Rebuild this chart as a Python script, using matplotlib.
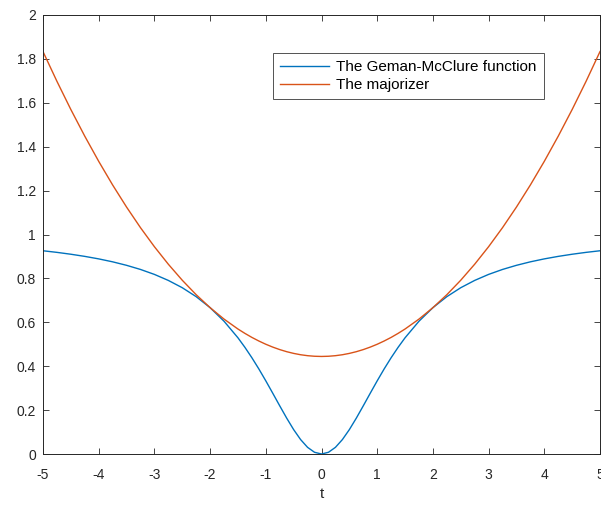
import numpy as np
import matplotlib.pyplot as plt

plt.rcParams['font.family'] = ['Liberation Sans', 'DejaVu Sans']
plt.rcParams['axes.unicode_minus'] = False

# Values (finer steps near the valley)
t = [-5.0, -4.75, -4.5, -4.25, -4.0, -3.75, -3.5, -3.25, -3.0, -2.75, -2.5, -2.25,
     -2.0, -1.75, -1.5, -1.375, -1.25, -1.125, -1.0, -0.875, -0.75, -0.625, -0.5,
     -0.375, -0.25, -0.125, 0.0,
     0.125, 0.25, 0.375, 0.5, 0.625, 0.75, 0.875, 1.0, 1.125, 1.25, 1.375, 1.5,
     1.75, 2.0, 2.25, 2.5, 2.75, 3.0, 3.25, 3.5, 3.75, 4.0, 4.25, 4.5, 4.75, 5.0]

geman = [0.9259, 0.9186, 0.9101, 0.9003, 0.8889, 0.8755, 0.8596, 0.8408, 0.8182, 0.7908,
         0.7576, 0.7168, 0.6667, 0.6049, 0.5294, 0.4859, 0.4386, 0.3876, 0.3333, 0.2768,
         0.2195, 0.1634, 0.1111, 0.0657, 0.0303, 0.0078, 0.0,
         0.0078, 0.0303, 0.0657, 0.1111, 0.1634, 0.2195, 0.2768, 0.3333, 0.3876, 0.4386,
         0.4859, 0.5294, 0.6049, 0.6667, 0.7168, 0.7576, 0.7908, 0.8182, 0.8408, 0.8596,
         0.8755, 0.8889, 0.9003, 0.9101, 0.9186, 0.9259]

major = [1.8333, 1.6979, 1.5694, 1.4479, 1.3333, 1.2257, 1.1250, 1.0312, 0.9444, 0.8646,
         0.7917, 0.7257, 0.6667, 0.6146, 0.5694, 0.5495, 0.5312, 0.5148, 0.5000, 0.4870,
         0.4757, 0.4661, 0.4583, 0.4522, 0.4479, 0.4453, 0.4444,
         0.4453, 0.4479, 0.4522, 0.4583, 0.4661, 0.4757, 0.4870, 0.5000, 0.5148, 0.5312,
         0.5495, 0.5694, 0.6146, 0.6667, 0.7257, 0.7917, 0.8646, 0.9444, 1.0312, 1.1250,
         1.2257, 1.3333, 1.4479, 1.5694, 1.6979, 1.8333]

fig = plt.figure(figsize=(6.01, 5.08), dpi=100)
ax = fig.add_axes([43 / 601, 54 / 508, 557 / 601, 439 / 508])

ax.plot(t, geman, color='#0072BD', linewidth=1.0, label='The Geman-McClure function')
ax.plot(t, major, color='#D95319', linewidth=1.0, label='The majorizer')

ax.set_xlim(-5, 5)
ax.set_ylim(0, 2)
ax.set_xticks(range(-5, 6))
ax.set_yticks(np.arange(0, 2.01, 0.2))
ax.set_yticklabels(['0', '0.2', '0.4', '0.6', '0.8', '1', '1.2', '1.4', '1.6', '1.8', '2'])
ax.set_xlabel('t', fontsize=11, color='#262626', labelpad=4)

ax.tick_params(direction='in', length=4, width=0.6, top=True, right=True,
               labelsize=10, colors='#262626', pad=5)
ax.tick_params(axis='x', pad=10)
for s in ax.spines.values():
    s.set_color('#262626')
    s.set_linewidth(0.7)

leg = ax.legend(loc='upper left', bbox_to_anchor=(230 / 557, 1 - 38 / 439),
                fontsize=11, frameon=True, fancybox=False, edgecolor='#262626',
                handlelength=3.2, borderpad=0.45, labelspacing=0.3, handletextpad=0.5,
                borderaxespad=0)
leg.get_frame().set_linewidth(0.7)

plt.savefig('out.png', dpi=100)
plt.close()
